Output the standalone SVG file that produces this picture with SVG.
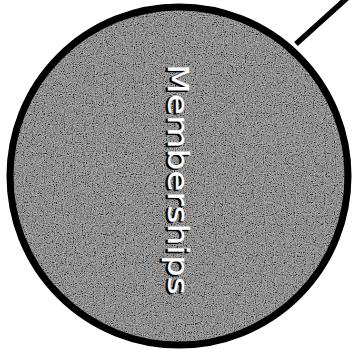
<svg xmlns="http://www.w3.org/2000/svg" width="361" height="349" viewBox="0 0 361 349">
  <style>
    text.label { font-family: "DejaVu Sans", "Liberation Sans", sans-serif; }
  </style>
  <defs>
    <filter id="grain" x="0" y="0" width="100%" height="100%">
      <feTurbulence type="fractalNoise" baseFrequency="0.9" numOctaves="2" seed="3" result="n"/>
      <feColorMatrix in="n" type="saturate" values="0" result="gn"/>
      <feComponentTransfer in="gn" result="c">
        <feFuncR type="linear" slope="2.2" intercept="-0.7"/>
        <feFuncG type="linear" slope="2.2" intercept="-0.7"/>
        <feFuncB type="linear" slope="2.2" intercept="-0.7"/>
        <feFuncA type="linear" slope="0" intercept="1"/>
      </feComponentTransfer>
      <feComposite in="c" in2="SourceGraphic" operator="in"/>
    </filter>
  </defs>
  <rect width="361" height="349" fill="#ffffff"/>
  <g id="connectors">
    <line x1="296" y1="44" x2="347" y2="-2" stroke="#000" stroke-width="5.5"/>
  </g>
  <g id="memberships">
    <circle cx="179" cy="176" r="169" fill="#6e6e6e"/>
    <circle cx="179" cy="176" r="169" fill="#6e6e6e" filter="url(#grain)" opacity="0.55"/>
    <circle cx="179" cy="176" r="169" fill="none" stroke="#000" stroke-width="7"/>
    <text class="label" font-size="28" transform="translate(166,65) rotate(90) scale(1.23,1)" fill="#000" stroke="#000" stroke-width="1">Memberships</text>
    <text class="label" font-size="28" transform="translate(168,64) rotate(90) scale(1.23,1)" fill="#fff" stroke="#fff" stroke-width="0.2">Memberships</text>
  </g>
</svg>
